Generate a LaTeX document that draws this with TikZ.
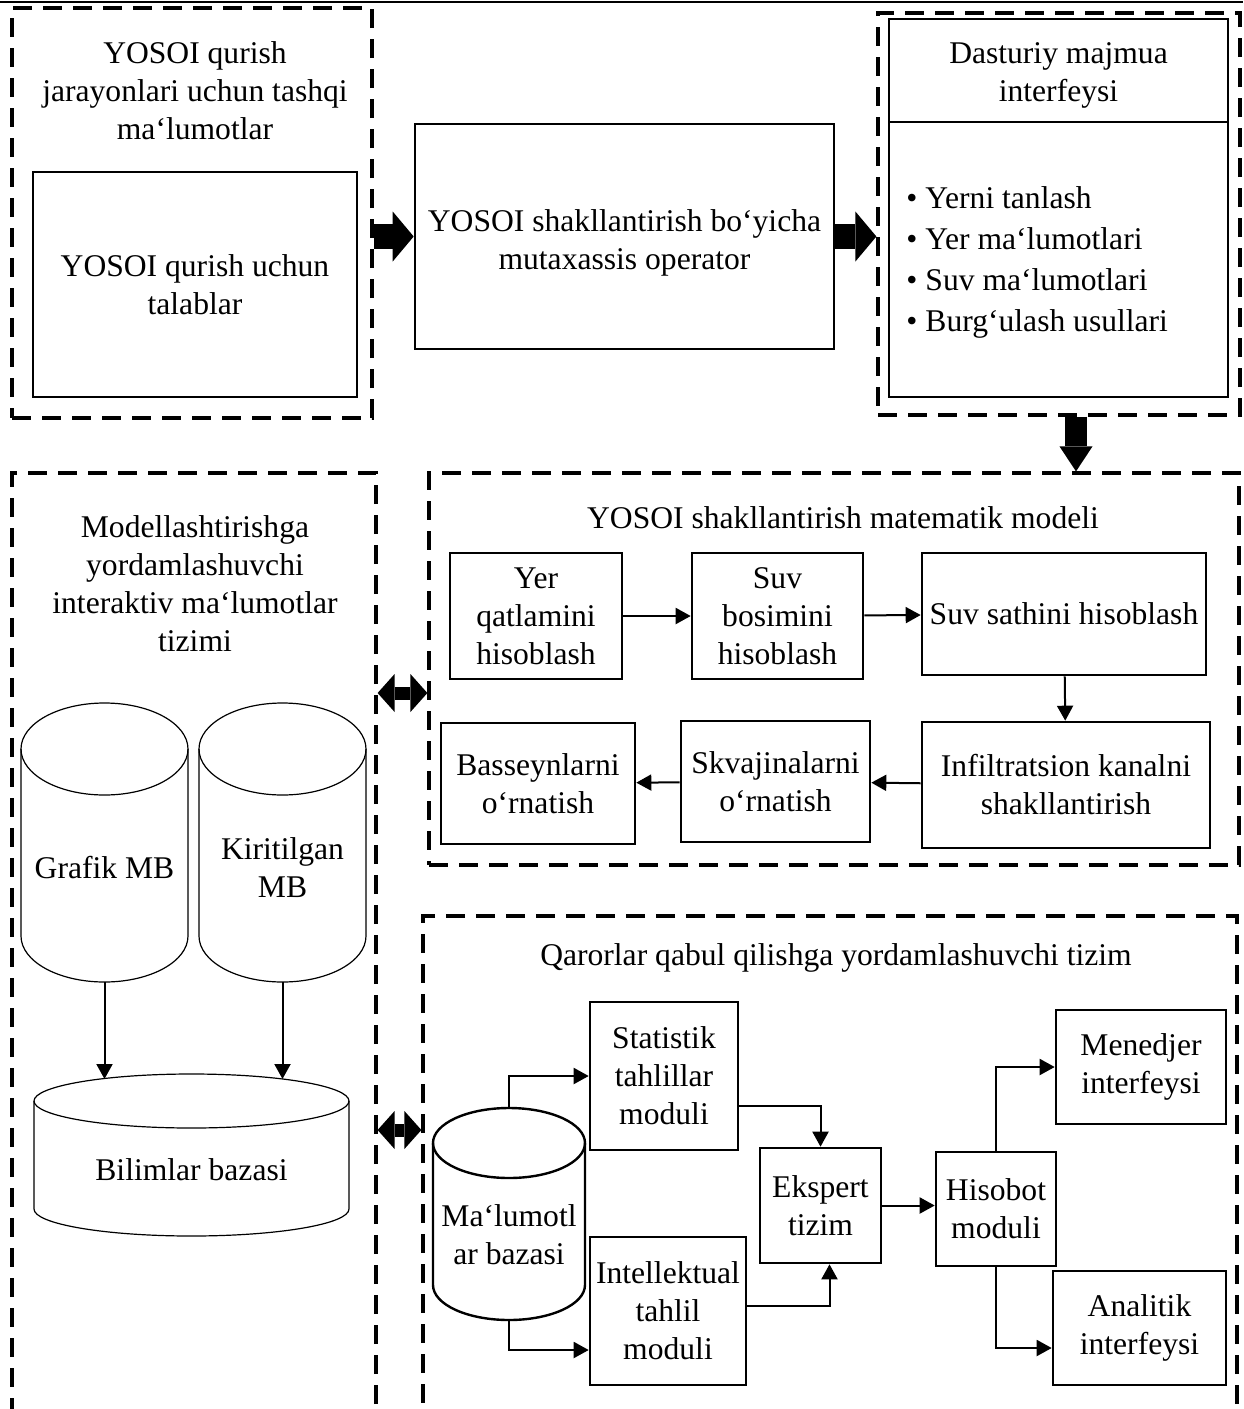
\documentclass[tikz,border=0pt]{standalone}
\usepackage{fontspec}
\setmainfont{Liberation Serif}
\usetikzlibrary{arrows.meta, positioning, calc}

% cylinder: [style]{name}{centre x}{top y}{bottom y}{x radius}{y radius}
\newcommand{\dbcyl}[7][]{%
  \coordinate (#2-top) at (#3,#4);
  \coordinate (#2-bot) at (#3,#5);
  \draw[#1] (#3-#6,#4+#7) -- (#3-#6,#5-#7)
    arc[start angle=180, end angle=0, x radius=#6, y radius=#7]
    -- (#3+#6,#4+#7);
  \draw[#1] (#3,#4+#7) ellipse [x radius=#6, y radius=#7];
}

\begin{document}
\begin{tikzpicture}[x=0.5pt, y=-0.5pt,
    every node/.style={font=\fontsize{15.8pt}{19pt}\selectfont,
      align=center, inner sep=1pt},
    frame/.style={draw, line width=1.6pt, dash pattern=on 9.5pt off 5.5pt},
    block/.style={draw, line width=1.3pt},
    drum/.style={line width=0.6pt},
    arr/.style={line width=1pt, -{Triangle[length=7.5pt, width=8pt]}},
    bigarrow/.style={line width=12.5pt,
      -{Triangle[length=10.5pt, width=25pt, line width=0pt]}},
    downarrow/.style={line width=11pt,
      -{Triangle[length=12.5pt, width=16.5pt, line width=0pt]}},
    bothways/.style={line width=6.5pt,
      {Triangle[length=8.5pt, width=19pt, line width=0pt]}-{Triangle[length=8.5pt, width=19pt, line width=0pt]}} ]

    \useasboundingbox (0,0) rectangle (1243,1409);
    \clip (0,0) rectangle (1243,1409);

    % Rule on top of the page
    \draw[line width=1pt] (0,2) -- (1243,2);

    % External data for building
    \node[frame, minimum width=180pt, minimum height=205pt] (ext) at (192,213) {};
    \node (ext-title) at (195,91) {YOSOI qurish\\jarayonlari uchun tashqi\\ma‘lumotlar};
    \node[block, minimum width=162pt, minimum height=112.5pt] (req) at (195,284.5)
    {YOSOI qurish uchun\\talablar};

    % Operator
    \node[block, minimum width=209.5pt, minimum height=112.5pt] (oper) at (624.5,236.5)
    {\rule{0pt}{17pt}YOSOI shakllantirish bo‘yicha\\mutaxassis operator};

    % Software interface
    \node[frame, minimum width=181pt, minimum height=201pt] (gui) at (1059,214) {};
    \node[block, minimum width=169.5pt, minimum height=51.5pt] (gui-head) at (1058.5,70.5) {};
    \node (gui-title) at (1058.5,75) {Dasturiy majmua\\interfeysi};
    \node[block, minimum width=169.5pt, minimum height=137.5pt] (gui-body) at (1058.5,259.5) {};
    \node[anchor=west, align=left, font=\fontsize{15.8pt}{20.5pt}\selectfont] (gui-list)
    at (904,262) {•\hspace{4pt}Yerni tanlash\\•\hspace{4pt}Yer ma‘lumotlari\\
      •\hspace{4pt}Suv ma‘lumotlari\\•\hspace{4pt}Burg‘ulash usullari};

    % Block arrows along the top
    \draw[bigarrow] (ext.east |- oper.west) -- (oper.west);
    \draw[bigarrow] (oper.east) -- (oper.east -| gui.west);

    % Interactive information system
    \node[frame, minimum width=182pt, minimum height=478.5pt] (imi) at (194,951.5) {};
    \node (imi-title) at (195,584)
    {Modellashtirishga\\yordamlashuvchi\\interaktiv ma‘lumotlar\\tizimi};
    \dbcyl[drum]{grafik}{104.5}{703}{982}{83.5}{46}
    \dbcyl[drum]{kirit}{282.5}{703}{982}{83.5}{46}
    \dbcyl[drum]{bilim}{191.5}{1074}{1236}{157.5}{27}
    \node (grafik-txt) at (104.5,868) {Grafik MB};
    \node (kirit-txt) at (282.5,867.5) {Kiritilgan\\MB};
    \node (bilim-txt) at (191.5,1170) {Bilimlar bazasi};
    \draw[arr] (grafik-bot) -- ($(grafik-bot |- bilim-top)+(0,5)$);
    \draw[arr] (kirit-bot) -- ($(kirit-bot |- bilim-top)+(0,5)$);

    % Mathematical model
    \node[frame, minimum width=405pt, minimum height=196pt] (model) at (834,669) {};
    \node (model-title) at (843,518) {YOSOI shakllantirish matematik modeli};
    \node[block, minimum width=86pt, minimum height=63pt] (yer) at (536,616)
    {Yer\\qatlamini\\hisoblash};
    \node[block, minimum width=85.5pt, minimum height=63pt] (bosim) at (777.5,616)
    {Suv\\bosimini\\hisoblash};
    \node[block, minimum width=142pt, minimum height=61pt] (sath) at (1064,614)
    {Suv sathini hisoblash};
    \node[block, minimum width=144pt, minimum height=63pt] (infil) at (1066,785)
    {Infiltratsion kanalni\\shakllantirish};
    \node[block, minimum width=94.5pt, minimum height=60.5pt] (skv) at (775.5,781.5)
    {Skvajinalarni\\o‘rnatish};
    \node[block, minimum width=97pt, minimum height=60.5pt] (bass) at (538,783.5)
    {Basseynlarni\\o‘rnatish};
    \draw[arr] (yer) -- (bosim);
    \draw[arr] (bosim) -- (sath);
    \draw[arr] (sath) -- (infil);
    \draw[arr] (infil) -- (skv);
    \draw[arr] (skv) -- (bass);

    % Interface to model
    \coordinate (gui-out) at ($(gui.south)+(17,0)$);
    \draw[downarrow] (gui-out) -- (gui-out |- model.north);

    % Decision support system
    \node[frame, minimum width=407pt, minimum height=257pt] (qqt) at (830,1173) {};
    \node (qqt-title) at (836,958) {Qarorlar qabul qilishga yordamlashuvchi tizim};
    \dbcyl[line width=1.2pt]{malb}{509}{1108}{1320}{76}{35}
    \node (malb-txt) at (509,1235) {Ma‘lumotl\\ar bazasi};
    \node[block, minimum width=74pt, minimum height=74pt] (stat) at (664,1076)
    {Statistik\\tahlillar\\moduli};
    \node[block, minimum width=78pt, minimum height=74pt] (intel) at (668,1311)
    {Intellektual\\tahlil\\moduli};
    \node[block, minimum width=60.5pt, minimum height=57.5pt] (eksp) at (820.5,1205.5)
    {Ekspert\\tizim};
    \node[block, minimum width=60pt, minimum height=57pt] (hisob) at (996,1209)
    {Hisobot\\moduli};
    \node[block, minimum width=85pt, minimum height=57pt] (mened) at (1141,1067)
    {Menedjer\\interfeysi};
    \node[block, minimum width=86.5pt, minimum height=57pt] (anal) at (1139.5,1328)
    {Analitik\\interfeysi};
    \draw[arr] (malb-top) |- (stat.west);
    \draw[arr] (malb-bot) |- ($(intel.west)+(0,39)$);
    \draw[arr] ($(stat.east)+(0,30)$) -| (eksp.north);
    \draw[arr] ($(intel.east)+(0,-5)$) -| ($(eksp.south)+(9,0)$);
    \draw[arr] (eksp.east) -- (eksp.east -| hisob.west);
    \draw[arr] (hisob.north) |- (mened.west);
    \draw[arr] (hisob.south) |- ($(anal.west)+(0,20)$);

    % Links between the information system and the right-hand parts
    \coordinate (model-in) at ($(model.west)+(0,24)$);
    \coordinate (qqt-in) at ($(qqt.west)+(0,-43)$);
    \draw[bothways] (imi.east |- model-in) -- (model-in);
    \draw[bothways] (imi.east |- qqt-in) -- (qqt-in);

\end{tikzpicture}
\end{document}
